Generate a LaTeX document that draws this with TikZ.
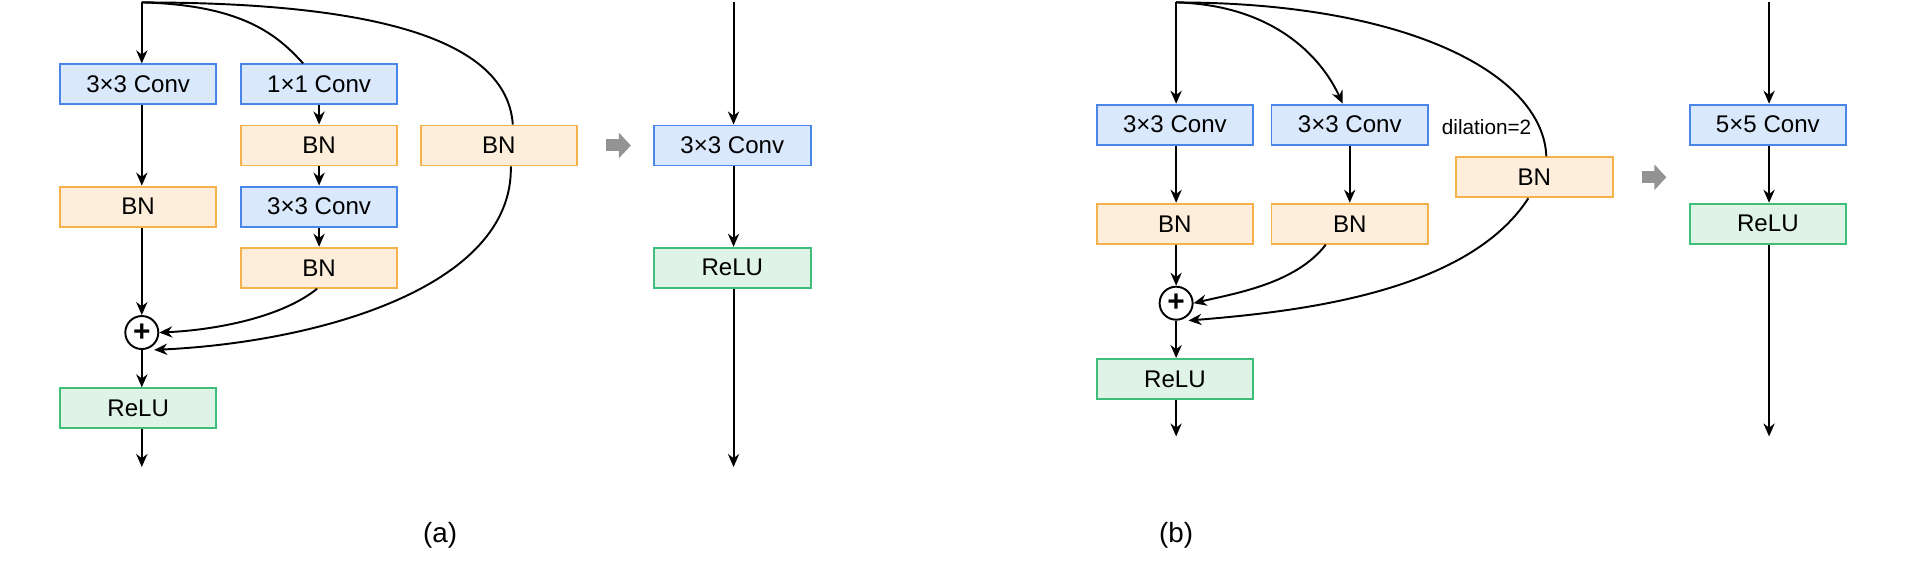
\documentclass[tikz,border=0pt]{standalone}
\usepackage{fontspec}
\setmainfont{Liberation Sans}
\usetikzlibrary{arrows.meta}
\definecolor{convfill}{HTML}{DAE8FC}
\definecolor{convline}{HTML}{4A86E8}
\definecolor{bnfill}{HTML}{FDEEDC}
\definecolor{bnline}{HTML}{F6B24A}
\definecolor{relufill}{HTML}{DFF3E7}
\definecolor{reluline}{HTML}{3EBE78}
\begin{document}
\begin{tikzpicture}[x=0.012226cm,y=-0.012226cm,line width=0.55pt,
  >={Stealth[length=3.7pt,width=3.2pt]},
  box/.style={minimum width=1.565cm,minimum height=0.40cm,inner sep=0pt,font=\fontsize{6.85}{7}\selectfont},
  conv/.style={box,draw=convline,fill=convfill},
  bn/.style={box,draw=bnline,fill=bnfill},
  relu/.style={box,draw=reluline,fill=relufill},
  sum/.style={circle,draw,minimum size=0.33cm,inner sep=0pt,font=\fontsize{8.5}{8.5}\selectfont\bfseries},
  turn/.style={line width=0.12cm,draw=gray!85,-{Triangle[length=0.12cm,width=0.25cm]}}]
% Frame
\useasboundingbox (0,0) rectangle (1568,461);

% (a) training block
\coordinate (topa) at (116,2);
\node[conv] (ca1) at (113,69) {3×3 Conv};
\node[conv] (ca2) at (261,69) {1×1 Conv};
\node[bn] (ba2) at (261,119) {BN};
\node[conv] (ca3) at (261,169) {3×3 Conv};
\node[bn] (ba3) at (261,219) {BN};
\node[bn] (ba4) at (408,119) {BN};
\node[bn] (ba1) at (113,169) {BN};
\node[sum] (pa) at (116,272) {+};
\node[relu] (ra) at (113,334) {ReLU};
\coordinate (enda) at (116,382);

\draw[->] (topa) -- (topa |- ca1.north);
\draw[->] (ca1.south -| topa) -- (ba1.north -| topa);
\draw[->] (ba1.south -| topa) -- (pa);
\draw[->] (pa) -- (ra.north -| topa);
\draw[->] (ra.south -| topa) -- (enda);
\draw[->] (ca2) -- (ba2);
\draw[->] (ba2) -- (ca3);
\draw[->] (ca3) -- (ba3);
\draw (topa) .. controls (200,4) and (228,30) .. ([xshift=-0.16cm]ca2.north);
\draw (topa) .. controls (330,2) and (415,40) .. ([xshift=0.14cm]ba4.north);
\draw[->] ([xshift=-0.02cm]ba3.south) .. controls (230,260) and (175,270) .. (pa.east);
\draw[->] ([xshift=0.12cm]ba4.south) .. controls (420,235) and (260,280) .. ([yshift=-0.05cm]pa.south east);

\draw[turn] (496,119) -- (516,119);

% (a) deployed block
\coordinate (topa2) at (600,2);
\node[conv] (cd) at (599,119) {3×3 Conv};
\node[relu] (rd) at (599,219) {ReLU};
\coordinate (enda2) at (600,382);
\draw[->] (topa2) -- (topa2 |- cd.north);
\draw[->] (cd.south -| topa2) -- (rd.north -| topa2);
\draw[->] (rd.south -| topa2) -- (enda2);

\node[font=\fontsize{7.9}{8}\selectfont] (laba) at (360,438) {(a)};

% (b) training block
\coordinate (topb) at (962,2);
\node[conv] (cb1) at (961,102) {3×3 Conv};
\node[conv] (cb2) at (1104,102) {3×3 Conv};
\node[font=\fontsize{5.9}{6}\selectfont,anchor=west] (dil) at (1169,104) {dilation=2};
\node[bn] (bb4) at (1255,145) {BN};
\node[bn] (bb1) at (961,183) {BN};
\node[bn] (bb2) at (1104,183) {BN};
\node[sum] (pb) at (962,248) {+};
\node[relu] (rb) at (961,310) {ReLU};
\coordinate (endb) at (962,357);

\draw[->] (topb) -- (topb |- cb1.north);
\draw[->] (cb1.south -| topb) -- (bb1.north -| topb);
\draw[->] (bb1.south -| topb) -- (pb);
\draw[->] (pb) -- (rb.north -| topb);
\draw[->] (rb.south -| topb) -- (endb);
\draw[->] (cb2) -- (bb2);
\draw[->] (topb) .. controls (1040,4) and (1080,45) .. ([xshift=-0.07cm]cb2.north);
\draw (topb) .. controls (1150,2) and (1262,60) .. ([xshift=0.12cm]bb4.north);
\draw[->] ([xshift=-0.24cm]bb2.south) .. controls (1060,232) and (1010,240) .. (pb.east);
\draw[->] ([xshift=-0.06cm]bb4.south) .. controls (1200,240) and (1060,255) .. ([yshift=-0.05cm]pb.south east);

\draw[turn] (1343,145) -- (1363,145);

% (b) deployed block
\coordinate (topb2) at (1447,2);
\node[conv] (ce) at (1446,102) {5×5 Conv};
\node[relu] (re) at (1446,183) {ReLU};
\coordinate (endb2) at (1447,357);
\draw[->] (topb2) -- (topb2 |- ce.north);
\draw[->] (ce.south -| topb2) -- (re.north -| topb2);
\draw[->] (re.south -| topb2) -- (endb2);

\node[font=\fontsize{7.9}{8}\selectfont] (labb) at (962,438) {(b)};
\end{tikzpicture}
\end{document}
